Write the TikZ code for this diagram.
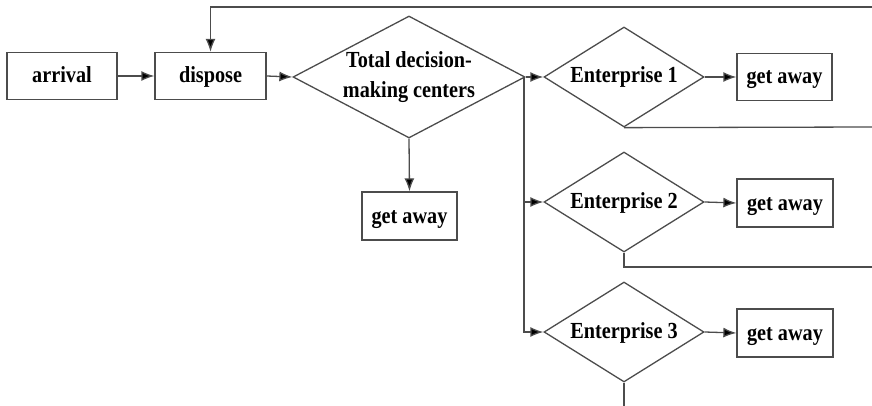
\documentclass[tikz,border=0pt]{standalone}
\usepackage{fontspec}
\setmainfont{Liberation Serif}[FakeStretch=0.88]
\usetikzlibrary{shapes.geometric,arrows.meta}
\tikzset{
  txt/.style={font=\bfseries\fontsize{23}{30}\selectfont},
  box/.style={txt, draw=black!70, line width=1.3pt, inner sep=0pt, text height=17pt, text depth=3pt},
  dia/.style={txt, draw=black!70, line width=1.3pt, diamond, inner sep=0pt, align=center},
  conn/.style={draw=black!70, line width=1.3pt},
  arr/.style={conn, -{Latex[length=13pt,width=10pt,fill=black]}}
}
\begin{document}
\begin{tikzpicture}[x=1pt,y=-1pt]
\useasboundingbox (0,0) rectangle (872,406);
\node[box, minimum width=110pt, minimum height=47pt] (arr) at (62,76) {arrival};
\node[box, minimum width=111pt, minimum height=47pt] (disp) at (210.5,76) {dispose};
\node[dia, minimum width=232pt, minimum height=122pt, aspect=1.9] (tot) at (409,77) {Total decision-\\making centers};
\node[box, minimum width=95pt, minimum height=48pt] (ga0) at (409.5,216) {get away};
\node[dia, minimum width=160pt, minimum height=100pt, aspect=1.6, text height=15pt, text depth=3pt] (e1) at (624,77) {Enterprise 1};
\node[dia, minimum width=160pt, minimum height=100pt, aspect=1.6, text height=15pt, text depth=3pt] (e2) at (624,202) {Enterprise 2};
\node[dia, minimum width=160pt, minimum height=100pt, aspect=1.6, text height=15pt, text depth=3pt] (e3) at (624,332) {Enterprise 3};
\node[box, minimum width=95pt, minimum height=47pt] (ga1) at (784.5,77) {get away};
\node[box, minimum width=96pt, minimum height=48pt] (ga2) at (785,203) {get away};
\node[box, minimum width=96pt, minimum height=48pt] (ga3) at (785,333) {get away};
\coordinate (split) at (524,77);
\coordinate (br2) at (524,202);
\coordinate (topR) at (872,7);
\coordinate (r1) at (872,127);
\coordinate (r2) at (872,267);
\coordinate (b3) at (624,406);
\draw[arr] (arr.east) -- (disp.west);
\draw[arr] (disp.east) -- (tot.west);
\draw[arr] (tot.east) -- (e1.west);
\draw[arr] (tot.south) -- (ga0.north);
\draw[arr] (split) |- (e3.west);
\draw[arr] (br2) -- (e2.west);
\draw[arr] (e1.east) -- (ga1.west);
\draw[arr] (e2.east) -- (ga2.west);
\draw[arr] (e3.east) -- (ga3.west);
\draw[arr] (topR) -| (disp.north);
\draw[conn] (e1.south) -- (r1);
\draw[conn] (e2.south) |- (r2);
\draw[conn] (e3.south) -- (b3);
\end{tikzpicture}
\end{document}
